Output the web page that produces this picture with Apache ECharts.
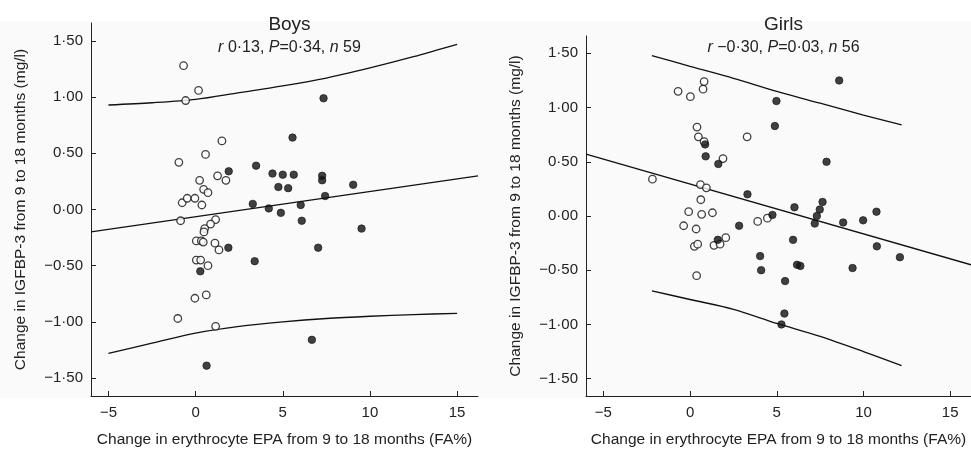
<!DOCTYPE html>
<html>
<head>
<meta charset="utf-8">
<script src="https://cdn.jsdelivr.net/npm/echarts@6/dist/echarts.min.js"></script>
<style>
  html, body { margin: 0; padding: 0; background: #fff; }
  #main { width: 971px; height: 450px; }
</style>
</head>
<body>
<div id="main"></div>
<script>
// ticks
var xTicks = [-5, 0, 5, 10, 15];
var yTicks = [-1.5, -1, -0.5, 0, 0.5, 1, 1.5];

// Boys: open circles (x = EPA change, y = IGFBP-3 change)
var boysOpen = [
    [-0.69, 1.28], [0.17, 1.06], [-0.57, 0.97], [1.51, 0.61], [0.57, 0.49], [-0.96, 0.42],
    [1.26, 0.30], [1.74, 0.26], [0.23, 0.26], [0.46, 0.18], [0.71, 0.15],
    [-0.77, 0.06], [-0.48, 0.10], [-0.04, 0.10], [0.36, 0.04], [-0.86, -0.10], [1.15, -0.09],
    [0.86, -0.13], [0.52, -0.17], [0.48, -0.20], [0.04, -0.28], [0.33, -0.28], [0.44, -0.29],
    [1.11, -0.30], [1.34, -0.36], [0.04, -0.45], [0.29, -0.45], [0.71, -0.50], [-0.04, -0.79],
    [0.61, -0.76], [-1.02, -0.97], [1.15, -1.04]
];
// Boys: filled circles
var boysFilled = [
    [7.34, 0.99], [5.56, 0.64], [3.47, 0.39], [1.90, 0.34], [4.41, 0.32], [5.00, 0.31],
    [5.63, 0.31], [7.26, 0.30], [7.26, 0.26], [9.04, 0.22], [4.75, 0.20], [5.31, 0.19],
    [7.43, 0.12], [3.28, 0.05], [4.20, 0.01], [4.89, -0.03], [6.03, 0.04], [6.09, -0.10],
    [9.52, -0.17], [1.88, -0.34], [7.03, -0.34], [3.39, -0.46], [0.27, -0.55], [6.67, -1.16],
    [0.63, -1.39]
];
var boysFitX = [-6, 16.2];
var boysFitY = [-0.20, 0.30];
var boysBandX = [-5, -2.5, 0, 2.5, 5, 7.5, 10, 12.5, 15];
var boysUpper = [0.93, 0.95, 0.98, 1.04, 1.10, 1.17, 1.26, 1.36, 1.47];
var boysLower = [-1.28, -1.19, -1.10, -1.04, -1.00, -0.97, -0.95, -0.935, -0.925];

// Girls
var girlsOpen = [
    [0.81, 1.24], [0.75, 1.17], [-0.69, 1.15], [0.02, 1.10], [0.40, 0.82], [0.48, 0.73],
    [3.29, 0.73], [0.81, 0.685], [1.90, 0.53], [-2.17, 0.34], [0.60, 0.29], [0.94, 0.26],
    [0.62, 0.15], [-0.08, 0.04], [0.67, 0.015], [1.29, 0.03], [-0.37, -0.09], [0.35, -0.12],
    [0.25, -0.28], [0.44, -0.26], [1.38, -0.27], [1.73, -0.26], [2.06, -0.20], [3.90, -0.05],
    [4.46, -0.02], [0.38, -0.55]
];
var girlsFilled = [
    [8.60, 1.25], [4.98, 1.06], [4.89, 0.83], [0.87, 0.66], [0.90, 0.55], [1.63, 0.48],
    [7.87, 0.50], [3.31, 0.20], [7.64, 0.13], [7.48, 0.06], [7.31, 0.00], [7.19, -0.07],
    [6.02, 0.08], [4.75, 0.01], [2.83, -0.09], [8.83, -0.06], [9.98, -0.04], [10.75, 0.04],
    [10.77, -0.28], [12.10, -0.38], [9.37, -0.48], [5.94, -0.22], [4.04, -0.37], [4.10, -0.50],
    [6.17, -0.45], [6.36, -0.46], [5.48, -0.60], [5.44, -0.90], [5.27, -1.00], [1.60, -0.22]
];
var girlsFitX = [-6, 16.2];
var girlsFitY = [0.57, -0.45];
var girlsBandX = [-2.2, 0, 2.5, 5, 7.5, 10, 12.2];
var girlsUpper = [1.48, 1.38, 1.27, 1.15, 1.04, 0.93, 0.84];
var girlsLower = [-0.69, -0.77, -0.86, -0.99, -1.11, -1.25, -1.38];

var FONT = '"Liberation Sans", Arial, Helvetica, sans-serif';
var xName = 'Change in erythrocyte EPA from 9 to 18 months (FA%)';
var yName = 'Change in IGFBP-3 from 9 to 18 months (mg/l)';

function zip(xs, ys) {
    var out = [];
    for (var i = 0; i < xs.length; i++) out.push([xs[i], ys[i]]);
    return out;
}

function fmtY(v) {
    var s = Math.abs(v).toFixed(2).replace('.', '\u00b7');
    return (v < 0 ? '\u2212' : '') + s;
}
function fmtX(v) {
    return (v < 0 ? '\u2212' : '') + Math.abs(v);
}

function xAxis(idx) {
    return {
        gridIndex: idx, type: 'value', min: -6, max: 16.2,
        name: xName, nameLocation: 'middle', nameGap: 36,
        nameTextStyle: { fontFamily: FONT, fontSize: 15.5, color: '#222' },
        axisLine: { onZero: false, lineStyle: { color: '#222', width: 1 } },
        axisTick: { inside: true, length: 5, customValues: xTicks, lineStyle: { color: '#222' } },
        axisLabel: { customValues: xTicks, formatter: fmtX, margin: 9, fontFamily: FONT, fontSize: 15, color: '#222' },
        splitLine: { show: false }
    };
}
function yAxis(idx) {
    return {
        gridIndex: idx, type: 'value', min: -1.66, max: 1.66,
        name: yName, nameLocation: 'middle', nameGap: 62, nameRotate: 90,
        nameTextStyle: { fontFamily: FONT, fontSize: 15.5, color: '#222' },
        axisLine: { onZero: false, lineStyle: { color: '#222', width: 1 } },
        axisTick: { inside: true, length: 5, customValues: yTicks, lineStyle: { color: '#222' } },
        axisLabel: { customValues: yTicks, formatter: fmtY, margin: 8, fontFamily: FONT, fontSize: 15, color: '#222' },
        splitLine: { show: false }
    };
}

function lineSeries(idx, data, smooth) {
    return {
        type: 'line', xAxisIndex: idx, yAxisIndex: idx, data: data,
        showSymbol: false, smooth: smooth, silent: true,
        lineStyle: { color: '#111', width: 1.3 }, z: 2
    };
}
function dotSeries(idx, data, filled) {
    return {
        type: 'scatter', xAxisIndex: idx, yAxisIndex: idx, data: data,
        symbol: 'circle', symbolSize: 7.5,
        itemStyle: filled
            ? { color: '#111', borderColor: '#111', borderWidth: 0.8 }
            : { color: '#fff', borderColor: '#111', borderWidth: 1.3 },
        z: filled ? 4 : 3
    };
}

var rich = { i: { fontStyle: 'italic', fontFamily: FONT, fontSize: 16, color: '#222' } };

var chart = echarts.init(document.getElementById('main'));
var option = {
    animation: false,
    backgroundColor: '#fff',
    graphic: [{
        type: 'rect', z: -100, silent: true,
        shape: { x: 0, y: 21, width: 971, height: 377 },
        style: { fill: '#fafafa' }
    }],
    title: [
        { text: 'Boys', left: 284.5, top: 10, textAlign: 'center',
          textStyle: { fontFamily: FONT, fontSize: 19, fontWeight: 'normal', color: '#222' } },
        { text: '{i|r} 0\u00b713, {i|P}=0\u00b734, {i|n} 59', left: 284.5, top: 35, textAlign: 'center',
          textStyle: { fontFamily: FONT, fontSize: 16, fontWeight: 'normal', color: '#222', rich: rich } },
        { text: 'Girls', left: 778.5, top: 10, textAlign: 'center',
          textStyle: { fontFamily: FONT, fontSize: 19, fontWeight: 'normal', color: '#222' } },
        { text: '{i|r} \u22120\u00b730, {i|P}=0\u00b703, {i|n} 56', left: 778.5, top: 35, textAlign: 'center',
          textStyle: { fontFamily: FONT, fontSize: 16, fontWeight: 'normal', color: '#222', rich: rich } }
    ],
    grid: [
        { left: 91, right: 493, top: 23, bottom: 54, outerBoundsMode: 'none', containLabel: false },
        { left: 586, right: 0, top: 36, bottom: 54, outerBoundsMode: 'none', containLabel: false }
    ],
    xAxis: [xAxis(0), xAxis(1)],
    yAxis: [yAxis(0), yAxis(1)],
    series: [
        lineSeries(0, zip(boysFitX, boysFitY), false),
        lineSeries(0, zip(boysBandX, boysUpper), 0.3),
        lineSeries(0, zip(boysBandX, boysLower), 0.3),
        dotSeries(0, boysOpen, false),
        dotSeries(0, boysFilled, true),
        lineSeries(1, zip(girlsFitX, girlsFitY), false),
        lineSeries(1, zip(girlsBandX, girlsUpper), 0.3),
        lineSeries(1, zip(girlsBandX, girlsLower), 0.3),
        dotSeries(1, girlsOpen, false),
        dotSeries(1, girlsFilled, true)
    ]
};
chart.setOption(option);
</script>
</body>
</html>
